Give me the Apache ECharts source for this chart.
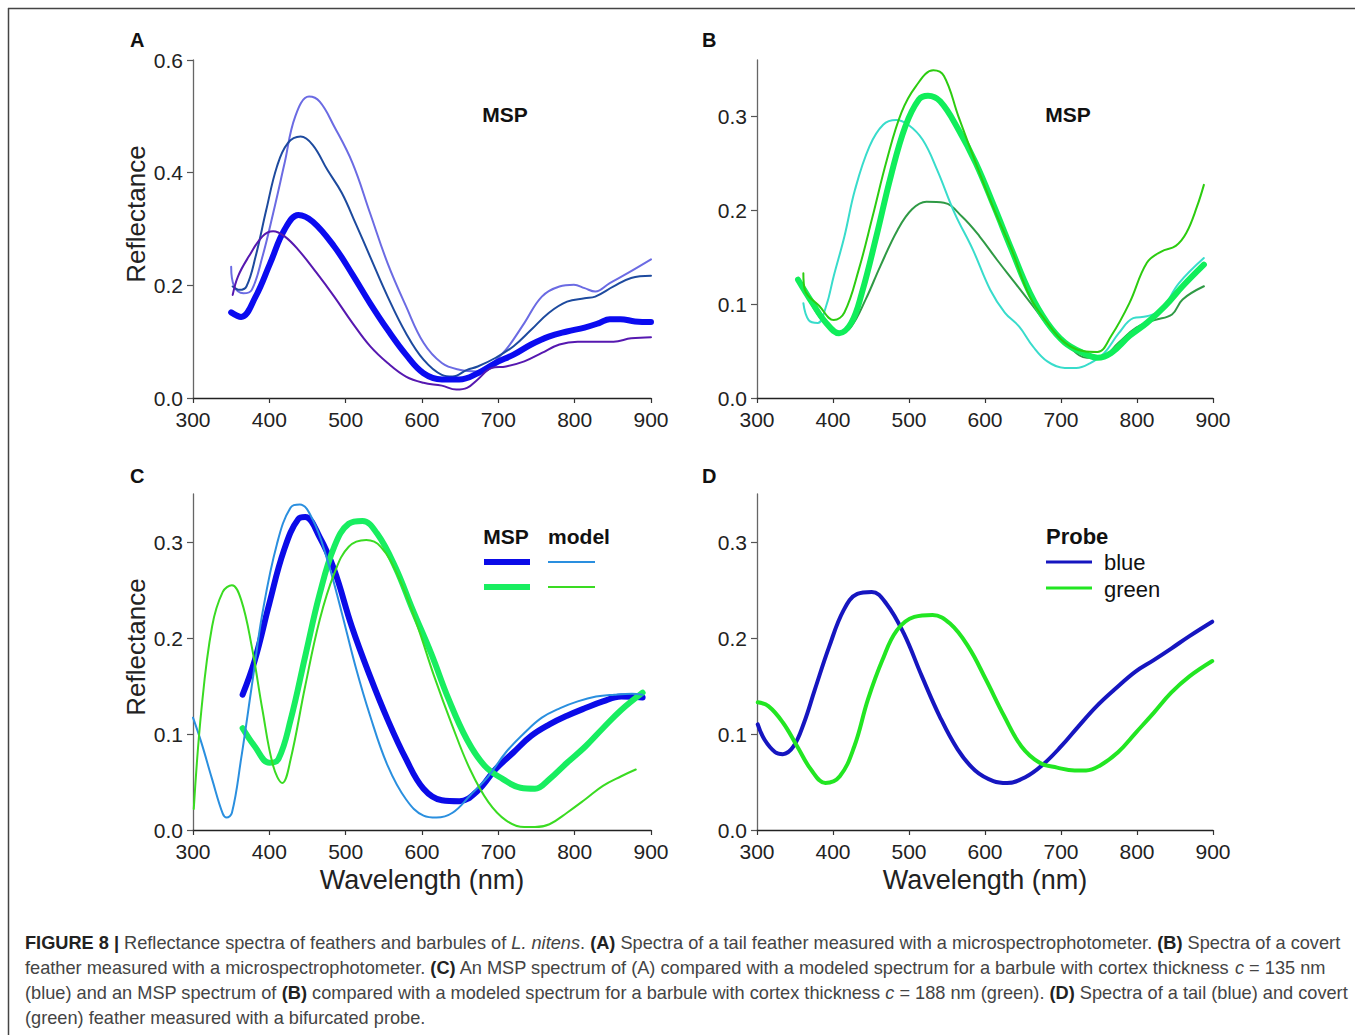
<!DOCTYPE html>
<html>
<head>
<meta charset="utf-8">
<script src="https://cdn.jsdelivr.net/npm/echarts@6/dist/echarts.min.js"></script>
<style>
html,body{margin:0;padding:0;background:#fff;}
#chart{width:1355px;height:1035px;}
</style>
</head>
<body>
<div id="chart"></div>
<script>
// ---------- DATA: [wavelength nm, reflectance] ----------
// Panel A (MSP, tail feather)
const aMspMain = [[350,0.152],[363,0.144],[382,0.18],[401,0.239],[420,0.299],[438,0.325],[457,0.313],[485,0.269],[509,0.219],[532,0.168],[555,0.121],[579,0.077],[602,0.044],[626,0.033],[649,0.033],[673,0.044],[696,0.062],[720,0.077],[743,0.095],[766,0.109],[790,0.118],[813,0.125],[832,0.133],[846,0.140],[860,0.140],[879,0.136],[900,0.135]];
const aMspLight = [[350,0.233],[354,0.198],[366,0.186],[377,0.192],[391,0.251],[405,0.328],[420,0.417],[434,0.5],[452,0.535],[466,0.526],[485,0.482],[509,0.417],[532,0.328],[555,0.239],[579,0.163],[602,0.098],[626,0.062],[649,0.050],[673,0.047],[687,0.056],[710,0.086],[734,0.133],[757,0.180],[780,0.198],[799,0.201],[813,0.195],[827,0.189],[846,0.204],[870,0.222],[900,0.246]];
const aMspDark = [[352,0.198],[361,0.192],[370,0.198],[382,0.251],[396,0.334],[410,0.411],[424,0.452],[441,0.464],[457,0.449],[476,0.405],[495,0.364],[513,0.310],[532,0.251],[555,0.180],[579,0.115],[602,0.068],[626,0.041],[640,0.038],[659,0.050],[673,0.056],[696,0.071],[720,0.092],[743,0.121],[766,0.151],[790,0.171],[813,0.177],[827,0.180],[851,0.198],[874,0.213],[900,0.217]];
const aMspPurple = [[352,0.183],[359,0.216],[373,0.251],[391,0.287],[405,0.296],[420,0.287],[438,0.263],[462,0.222],[485,0.180],[509,0.133],[532,0.092],[555,0.062],[579,0.038],[602,0.027],[626,0.022],[645,0.015],[659,0.018],[673,0.033],[691,0.053],[710,0.056],[734,0.065],[757,0.080],[780,0.095],[804,0.100],[827,0.100],[851,0.100],[874,0.106],[900,0.108]];
// Panel B (MSP, covert feather)
const bMspMain = [[354,0.126],[373,0.101],[391,0.080],[408,0.069],[424,0.080],[438,0.112],[457,0.172],[476,0.236],[495,0.289],[513,0.318],[525,0.322],[541,0.316],[565,0.286],[588,0.250],[612,0.204],[635,0.158],[659,0.112],[682,0.080],[705,0.059],[729,0.048],[748,0.043],[766,0.048],[790,0.066],[813,0.080],[837,0.098],[860,0.119],[888,0.142]];
const bMspBright = [[361,0.133],[363,0.115],[382,0.098],[401,0.083],[415,0.091],[434,0.137],[452,0.193],[471,0.254],[490,0.304],[509,0.332],[532,0.349],[546,0.343],[565,0.300],[588,0.250],[612,0.201],[635,0.158],[659,0.108],[682,0.080],[705,0.059],[729,0.050],[748,0.049],[766,0.066],[790,0.101],[813,0.144],[832,0.156],[851,0.162],[865,0.176],[879,0.204],[888,0.227]];
const bMspCyan = [[361,0.101],[368,0.083],[380,0.080],[391,0.098],[401,0.130],[415,0.172],[429,0.222],[448,0.268],[466,0.291],[483,0.296],[499,0.291],[518,0.275],[537,0.243],[560,0.197],[584,0.158],[607,0.115],[626,0.091],[645,0.076],[663,0.055],[682,0.039],[705,0.032],[720,0.032],[738,0.037],[757,0.048],[776,0.069],[795,0.085],[813,0.087],[832,0.094],[855,0.122],[888,0.149]];
const bMspDark = [[354,0.128],[373,0.098],[391,0.078],[410,0.069],[424,0.076],[443,0.105],[462,0.140],[485,0.179],[504,0.201],[523,0.209],[546,0.208],[570,0.193],[593,0.172],[616,0.147],[640,0.122],[663,0.098],[687,0.073],[710,0.055],[734,0.043],[752,0.043],[776,0.059],[799,0.075],[823,0.083],[846,0.089],[860,0.105],[888,0.119]];
// Panel C (MSP vs model)
const cMspBlue = [[365,0.141],[381,0.177],[400,0.236],[419,0.291],[438,0.324],[447,0.326],[466,0.305],[485,0.271],[508,0.212],[532,0.160],[555,0.115],[579,0.074],[602,0.043],[626,0.031],[649,0.030],[673,0.041],[696,0.063],[720,0.081],[743,0.098],[767,0.110],[790,0.119],[814,0.127],[837,0.134],[861,0.139],[889,0.138]];
const cModelBlue = [[300,0.117],[311,0.091],[325,0.053],[339,0.017],[344,0.013],[351,0.018],[363,0.074],[377,0.150],[391,0.226],[410,0.298],[428,0.336],[440,0.339],[457,0.323],[475,0.284],[494,0.229],[513,0.170],[532,0.119],[555,0.067],[579,0.032],[602,0.015],[619,0.013],[640,0.018],[663,0.036],[687,0.056],[710,0.081],[734,0.101],[757,0.117],[781,0.127],[804,0.134],[828,0.139],[852,0.141],[875,0.142],[889,0.141]];
const cMspGreen = [[365,0.106],[381,0.087],[400,0.070],[412,0.074],[428,0.115],[447,0.181],[466,0.246],[485,0.295],[504,0.319],[522,0.322],[541,0.309],[565,0.274],[588,0.229],[612,0.184],[635,0.136],[659,0.094],[682,0.067],[706,0.053],[729,0.044],[748,0.043],[767,0.053],[790,0.070],[814,0.087],[837,0.106],[861,0.125],[889,0.143]];
const cModelGreen = [[301,0.022],[311,0.125],[325,0.212],[339,0.248],[351,0.255],[363,0.240],[377,0.191],[391,0.125],[405,0.067],[417,0.049],[428,0.074],[447,0.150],[466,0.219],[485,0.267],[504,0.295],[527,0.302],[546,0.295],[569,0.264],[593,0.215],[616,0.160],[640,0.108],[663,0.063],[687,0.029],[710,0.010],[734,0.003],[748,0.003],[767,0.006],[790,0.018],[814,0.032],[837,0.046],[861,0.056],[880,0.063]];
// Panel D (bifurcated probe)
const dProbeBlue = [[301,0.110],[310,0.094],[324,0.081],[334,0.079],[348,0.087],[362,0.112],[376,0.146],[395,0.191],[414,0.229],[432,0.246],[451,0.248],[470,0.236],[493,0.205],[517,0.160],[540,0.119],[564,0.084],[587,0.062],[611,0.051],[629,0.049],[653,0.055],[676,0.068],[700,0.087],[723,0.108],[747,0.129],[770,0.146],[798,0.165],[822,0.177],[845,0.189],[869,0.202],[899,0.217]];
const dProbeGreen = [[301,0.133],[315,0.129],[334,0.112],[353,0.087],[371,0.063],[390,0.049],[409,0.056],[428,0.087],[446,0.136],[465,0.177],[484,0.208],[507,0.222],[531,0.224],[554,0.215],[578,0.191],[601,0.157],[625,0.119],[648,0.087],[672,0.070],[695,0.065],[718,0.062],[733,0.062],[751,0.067],[775,0.081],[798,0.101],[822,0.122],[845,0.143],[869,0.160],[899,0.176]];

// Tick labels
const xTicks = [300, 400, 500, 600, 700, 800, 900];
const yTicksA = [0, 0.2, 0.4, 0.6];
const yTicksBCD = [0, 0.1, 0.2, 0.3];

// ---------- CHART ----------
const FONT = '"Liberation Sans", Arial, Helvetica, sans-serif';
const chart = echarts.init(document.getElementById('chart'), null, {renderer: 'svg'});

const grids = [
  {left: 193, top: 60, width: 458, height: 338},
  {left: 757, top: 60, width: 456, height: 338},
  {left: 193, top: 494, width: 458, height: 336},
  {left: 757, top: 494, width: 456, height: 336}
];

function mkX(i, named) {
  return {
    type: 'value', gridIndex: i, min: xTicks[0], max: xTicks[xTicks.length - 1], interval: 100,
    axisLine: {lineStyle: {color: '#222', width: 1.3}},
    axisTick: {show: true, length: 5, lineStyle: {color: '#333', width: 1.2}},
    axisLabel: {fontSize: 21, color: '#222', margin: 11, fontFamily: FONT},
    splitLine: {show: false},
    name: named ? 'Wavelength (nm)' : '',
    nameLocation: 'middle', nameGap: 36,
    nameTextStyle: {fontSize: 27, color: '#222', fontFamily: FONT}
  };
}
function mkY(i, max, ticks, named) {
  return {
    type: 'value', gridIndex: i, min: 0, max: max,
    axisLine: {show: true, lineStyle: {color: '#666', width: 1.3}},
    axisTick: {show: true, length: 6, customValues: ticks, lineStyle: {color: '#555', width: 1.2}},
    axisLabel: {fontSize: 21, color: '#222', margin: 10, fontFamily: FONT, customValues: ticks,
      formatter: v => Number(v).toFixed(1)},
    splitLine: {show: false},
    name: named ? 'Reflectance' : '',
    nameLocation: 'middle', nameGap: 44, nameRotate: 90,
    nameTextStyle: {fontSize: 26, color: '#222', fontFamily: FONT, padding: [0, 0, 0, 30]}
  };
}

function ln(name, data, gi, color, w, z) {
  return {
    name: name, type: 'line', xAxisIndex: gi, yAxisIndex: gi, data: data,
    showSymbol: false, smooth: 0.4, z: z || 2,
    lineStyle: {color: color, width: w, cap: 'round', join: 'round'},
    itemStyle: {color: color},
    emphasis: {disabled: true}, silent: true
  };
}

function txt(x, y, s, size, weight, align, extra) {
  return Object.assign({
    type: 'text', x: x, y: y, silent: true,
    style: {text: s, fontSize: size, fontWeight: weight || 'normal', fontFamily: FONT,
      fill: '#111', align: align || 'left', verticalAlign: 'middle'}
  }, extra || {});
}
function seg(x1, y1, x2, y2, color, w) {
  return {type: 'line', silent: true, shape: {x1, y1, x2, y2}, style: {stroke: color, lineWidth: w}};
}

const CAP = 18.2;
const capRich = {
  b: {fontWeight: 'bold', fontSize: CAP, fontFamily: FONT, fill: '#222'},
  i: {fontStyle: 'italic', fontSize: CAP, fontFamily: FONT, fill: '#444'}
};
const capLines = [
  '{b|FIGURE 8 |} Reflectance spectra of feathers and barbules of {i|L. nitens}. {b|(A)} Spectra of a tail feather measured with a microspectrophotometer. {b|(B)} Spectra of a covert',
  'feather measured with a microspectrophotometer. {b|(C)} An MSP spectrum of (A) compared with a modeled spectrum for a barbule with cortex thickness {i|c} = 135 nm',
  '(blue) and an MSP spectrum of {b|(B)} compared with a modeled spectrum for a barbule with cortex thickness {i|c} = 188 nm (green). {b|(D)} Spectra of a tail (blue) and covert',
  '(green) feather measured with a bifurcated probe.'
];

const graphics = [
  seg(8, 8.5, 1355, 8.5, '#444', 1.5),
  seg(8.5, 8, 8.5, 1035, '#444', 1.5),
  txt(130, 40, 'A', 20, 'bold'),
  txt(702, 40, 'B', 20, 'bold'),
  txt(130, 476, 'C', 20, 'bold'),
  txt(702, 476, 'D', 20, 'bold'),
  txt(505, 114, 'MSP', 21, 'bold', 'center'),
  txt(1068, 114, 'MSP', 21, 'bold', 'center'),
  // Legend C
  txt(506, 536, 'MSP', 21, 'bold', 'center'),
  txt(579, 536, 'model', 21, 'bold', 'center'),
  seg(484, 562, 530, 562, '#0b0be8', 6),
  seg(548, 562, 595, 562, '#2a8fdf', 2),
  seg(484, 587, 530, 587, '#18ee60', 6),
  seg(548, 587, 595, 587, '#3adb22', 2),
  // Legend D
  txt(1046, 536, 'Probe', 22, 'bold'),
  seg(1046, 562, 1092, 562, '#1616c0', 3),
  txt(1104, 562, 'blue', 22, 'normal'),
  seg(1046, 588, 1092, 588, '#22e622', 3),
  txt(1104, 589, 'green', 22, 'normal')
];
capLines.forEach((t, k) => {
  graphics.push({
    type: 'text', x: 25, y: 943 + k * 25, silent: true,
    style: {text: t, rich: capRich, fontSize: CAP, fontFamily: FONT, fill: '#444', align: 'left', verticalAlign: 'middle'}
  });
});

const option = {
  backgroundColor: '#fff',
  animation: false,
  textStyle: {fontFamily: FONT},
  grid: grids,
  xAxis: [mkX(0, false), mkX(1, false), mkX(2, true), mkX(3, true)],
  yAxis: [
    Object.assign(mkY(0, 0.6, yTicksA, true), {interval: 0.2}),
    mkY(1, 0.36, yTicksBCD, false),
    mkY(2, 0.35, yTicksBCD, true),
    mkY(3, 0.35, yTicksBCD, false)
  ],
  series: [
    ln('A light', aMspLight, 0, '#6b6be3', 2),
    ln('A dark', aMspDark, 0, '#1d4a9e', 2),
    ln('A main', aMspMain, 0, '#0b0bf0', 6),
    ln('A purple', aMspPurple, 0, '#5618b0', 2),
    ln('B dark', bMspDark, 1, '#2f9a45', 2),
    ln('B cyan', bMspCyan, 1, '#38dccb', 2),
    ln('B main', bMspMain, 1, '#10ee5a', 6),
    ln('B bright', bMspBright, 1, '#2ccc10', 2),
    ln('C MSP blue', cMspBlue, 2, '#0b0be8', 6),
    ln('C MSP green', cMspGreen, 2, '#18ee60', 6),
    ln('C model blue', cModelBlue, 2, '#2a8fdf', 2, 3),
    ln('C model green', cModelGreen, 2, '#3adb22', 2, 3),
    ln('D blue', dProbeBlue, 3, '#1616c0', 4),
    ln('D green', dProbeGreen, 3, '#22e622', 4)
  ],
  graphic: graphics
};
chart.setOption(option);
</script>
</body>
</html>
